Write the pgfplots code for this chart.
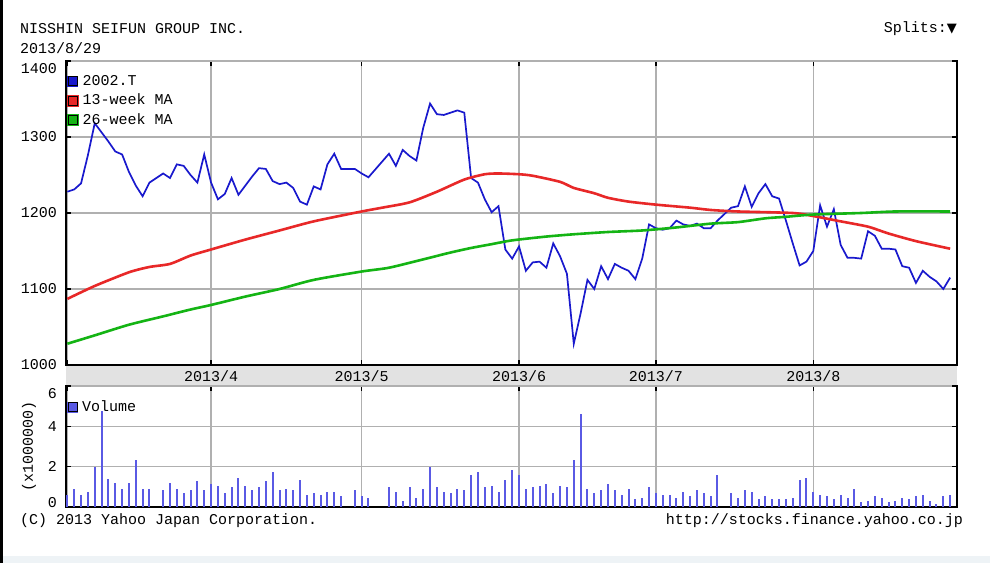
\documentclass[border=0pt]{standalone}
\usepackage{pgfplots}
\pgfplotsset{compat=1.18}
\usepackage{pgfplotstable}
\usepackage{fontspec}
\setmainfont{Liberation Mono}
\newfontfamily\dejavu{DejaVu Sans}
\definecolor{pblue}{RGB}{25,25,205}
\definecolor{mared}{RGB}{232,40,40}
\definecolor{magreen}{RGB}{20,180,20}
\definecolor{volblue}{RGB}{90,90,228}
\definecolor{gridgray}{RGB}{176,176,176}
\definecolor{bandgray}{RGB}{226,226,226}
\definecolor{stripe}{RGB}{238,243,246}

% x = weekday index from 2013/3/1 (holidays left out)
\pgfplotstableread{
idx price
0 1228
1 1231
2 1239
3 1276
4 1318
5 1306
6 1294
7 1281
8 1277
9 1254
10 1236
11 1222
12 1240
14 1252
15 1246
16 1264
17 1262
18 1250
19 1240
20 1277
21 1240
22 1218
23 1225
24 1246
25 1224
26 1236
27 1248
28 1259
29 1258
30 1242
31 1238
32 1240
33 1233
34 1215
35 1211
36 1235
37 1231
38 1264
39 1278
40 1258
42 1258
43 1252
44 1247
47 1278
48 1262
49 1283
50 1275
51 1269
52 1312
53 1344
54 1330
55 1329
56 1332
57 1335
58 1332
59 1246
60 1240
61 1218
62 1201
63 1209
64 1152
65 1140
66 1156
67 1124
68 1135
69 1136
70 1128
71 1160
72 1143
73 1120
74 1028
75 1068
76 1112
77 1100
78 1130
79 1113
80 1133
81 1128
82 1124
83 1113
84 1140
85 1185
86 1180
87 1178
88 1180
89 1190
90 1185
91 1183
92 1186
93 1180
94 1180
95 1190
97 1207
98 1209
99 1235
100 1208
101 1226
102 1238
103 1222
104 1219
105 1190
106 1160
107 1131
108 1136
109 1150
110 1210
111 1182
112 1205
113 1158
114 1141
115 1141
116 1140
117 1176
118 1170
119 1153
120 1153
121 1152
122 1130
123 1128
124 1108
125 1124
126 1116
127 1110
128 1100
129 1115
}\pricetable

\pgfplotstableread{
idx ma
0 1087
4 1104
9 1122
12 1129
15 1133
18 1144
21 1152
26 1165
31 1177
36 1189
43 1202
46 1207
50 1214
54 1228
58 1244
61 1251
63 1252
66 1251
68 1249
72 1241
74 1233
77 1226
79 1220
82 1215
86 1211
91 1207
94 1204
98 1202
106 1200
109 1196
113 1189
117 1182
120 1173
124 1163
129 1153
}\matable

\pgfplotstableread{
idx ma
0 1028
4 1039
9 1053
14 1064
18 1073
21 1079
26 1090
31 1100
36 1112
43 1123
47 1128
52 1139
56 1148
59 1154
62 1159
65 1164
70 1169
74 1172
79 1175
84 1177
89 1181
94 1186
98 1188
102 1193
105 1195
109 1198
116 1200
121 1202
129 1202
}\mbtable

\pgfplotstableread{
idx vol
0 0.60
1 0.91
2 0.60
3 0.75
4 2.00
5 4.75
6 1.41
7 1.19
8 0.91
9 1.19
10 2.32
11 0.91
12 0.91
14 0.83
15 1.19
16 0.91
17 0.68
18 0.83
19 1.28
20 0.83
21 1.13
22 1.04
23 0.68
24 0.98
25 1.43
26 1.04
27 0.83
28 0.98
29 1.28
30 1.72
31 0.83
32 0.91
33 0.83
34 1.36
35 0.60
36 0.68
37 0.60
38 0.75
39 0.75
40 0.53
42 0.83
43 0.53
44 0.45
47 0.98
48 0.75
49 0.30
50 0.98
51 0.45
52 0.91
53 1.97
54 0.98
55 0.75
56 0.68
57 0.91
58 0.83
59 1.58
60 1.72
61 0.98
62 1.04
63 0.75
64 1.36
65 1.81
66 1.58
67 0.91
68 0.98
69 1.04
70 1.13
71 0.68
72 1.04
73 0.98
74 2.32
75 4.63
76 0.91
77 0.68
78 0.83
79 1.13
80 0.83
81 0.60
82 0.91
83 0.38
84 0.45
85 0.98
86 0.68
87 0.60
88 0.60
89 0.45
90 0.75
91 0.53
92 0.83
93 0.68
94 0.53
95 1.58
97 0.68
98 0.45
99 0.83
100 0.75
101 0.38
102 0.53
103 0.38
104 0.38
105 0.38
106 0.45
107 1.36
108 1.43
109 0.75
110 0.60
111 0.53
112 0.38
113 0.60
114 0.45
115 0.91
116 0.23
117 0.30
118 0.53
119 0.45
120 0.23
121 0.30
122 0.45
123 0.38
124 0.53
125 0.60
126 0.30
127 0.15
128 0.53
129 0.60
}\voltable

\newcommand{\cf}{\fontsize{15bp}{18bp}\selectfont}

\pgfplotsset{
  chartbase/.style={
    scale only axis,
    anchor=north west,
    width=891bp,
    xmin=-0.2, xmax=130,
    xtick={0,21,43,66,86,109},
    grid=major,
    major grid style={gridgray, line width=1.3bp},
    axis line style={black, line width=1.5bp},
    tick align=inside,
    major tick length=5bp,
    tick style={black, line width=1.3bp},
    /pgf/number format/assume math mode=true,
    /pgf/number format/1000 sep={},
    tick label style={font=\cf},
    yticklabel style={inner sep=0pt, xshift=-9bp},
    legend style={at={(0,1)}, anchor=north west, draw=none, fill=none,
      inner sep=0pt, outer sep=0pt, font=\cf, row sep=6bp, column sep=4bp,
      nodes={inner sep=0pt, text height=10.5bp, text depth=3bp}},
    legend cell align=left,
    legend image code/.code={
      \fill[##1] (0bp,-4.5bp) rectangle (9bp,4.5bp);
      \draw[black, line width=0.7bp] (0bp,-4.5bp) rectangle (9bp,4.5bp);},
  }
}

\begin{document}%
\begin{tikzpicture}
\useasboundingbox (0bp,0bp) rectangle (990bp,-563bp);
\fill[white] (0bp,0bp) rectangle (990bp,-563bp);
\fill[stripe] (0bp,-556bp) rectangle (990bp,-563bp);
\fill[black] (0bp,0bp) rectangle (2.5bp,-563bp);
\fill[bandgray] (66bp,-365bp) rectangle (957bp,-385bp);

\node[anchor=west, inner sep=0pt, font=\cf] at (20bp,-29bp) {NISSHIN SEIFUN GROUP INC.};
\node[anchor=west, inner sep=0pt, font=\cf] at (20bp,-48bp) {2013/8/29};
\node[anchor=east, inner sep=0pt, font=\cf] at (957bp,-29bp) {Splits:{\dejavu\fontsize{13bp}{15bp}\selectfont ▼}};

\begin{axis}[chartbase,
  at={(66bp,-61bp)},
  height=304bp,
  ymin=1000, ymax=1400,
  xticklabels={,2013/4,2013/5,2013/6,2013/7,2013/8},
  xticklabel style={anchor=north, inner sep=0pt, yshift=-5bp},
  ytick={1000,1100,1200,1300},
  extra y ticks={1400},
  extra y tick style={yticklabel style={yshift=-8bp}},
  legend style={yshift=-13.5bp, xshift=1bp},
]
\addplot[pblue, line width=1.7bp] table[x=idx, y=price] {\pricetable};
\addlegendentry{2002.T}
\addplot[mared, line width=2.6bp, smooth, tension=0.4] table[x=idx, y=ma] {\matable};
\addlegendentry{13-week MA}
\addplot[magreen, line width=2.6bp, smooth, tension=0.4] table[x=idx, y=ma] {\mbtable};
\addlegendentry{26-week MA}
\end{axis}

\begin{axis}[chartbase,
  at={(66bp,-386bp)},
  height=121bp,
  ymin=0, ymax=6,
  xticklabels={},
  ytick={0,2,4},
  yticklabels={\raisebox{4bp}[\height][\depth]{0},2,4},
  extra y ticks={6},
  extra y tick labels={6},
  extra y tick style={yticklabel style={yshift=-8bp}},
  ylabel={(x1000000)},
  every axis y label/.style={at={(axis description cs:-0.0415,0.5)}, rotate=90, anchor=center, font=\cf},
  legend style={yshift=-14.5bp, xshift=1bp},
]
\addplot[volblue, line width=2bp, ycomb] table[x=idx, y=vol] {\voltable};
\addlegendentry{Volume}
\end{axis}

\node[anchor=west, inner sep=0pt, font=\cf] at (20bp,-521bp) {(C) 2013 Yahoo Japan Corporation.};
\node[anchor=east, inner sep=0pt, font=\cf] at (963bp,-521bp) {http://stocks.finance.yahoo.co.jp};
\end{tikzpicture}%
\end{document}
